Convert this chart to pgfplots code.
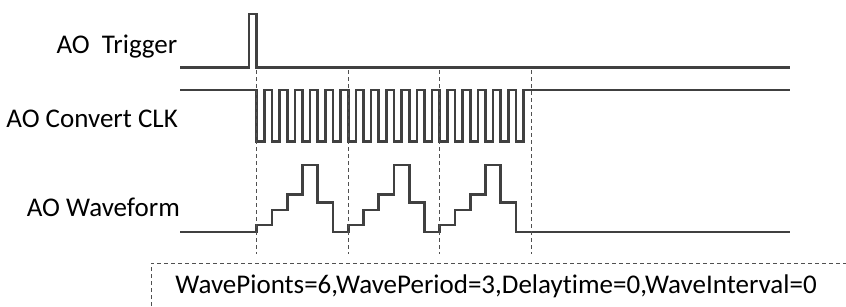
\documentclass[border=0pt]{standalone}
\usepackage{fontspec}
\setmainfont{Carlito}[Ligatures={NoCommon}]
\usepackage{pgfplots}
\pgfplotsset{compat=1.18}
\definecolor{sig}{HTML}{404040}
\definecolor{dsh}{HTML}{505050}
\tikzset{lbl/.style={font=\fontsize{27}{31}\selectfont, inner sep=0pt, text=black}}
\begin{document}
\begin{tikzpicture}
\begin{axis}[name=ax,
  width=846pt, height=306pt, scale only axis,
  xmin=0, xmax=846, ymin=0, ymax=306, y dir=reverse,
  hide axis, clip=false]
% AO Trigger
\addplot[sig, line width=2.6pt, const plot mark left] coordinates {
(180,67.3) (249,14) (256.7,67.3) (790,67.3) };
% AO Convert CLK
\addplot[sig, line width=2.6pt, const plot mark left] coordinates {
(180,90)
(256.70,141.5) (264.30,90)
(271.95,141.5) (279.55,90)
(287.20,141.5) (294.80,90)
(302.45,141.5) (310.05,90)
(317.70,141.5) (325.30,90)
(332.95,141.5) (340.55,90)
(348.20,141.5) (355.80,90)
(363.45,141.5) (371.05,90)
(378.70,141.5) (386.30,90)
(393.95,141.5) (401.55,90)
(409.20,141.5) (416.80,90)
(424.45,141.5) (432.05,90)
(439.70,141.5) (447.30,90)
(454.95,141.5) (462.55,90)
(470.20,141.5) (477.80,90)
(485.45,141.5) (493.05,90)
(500.70,141.5) (508.30,90)
(515.95,141.5) (523.55,90)
(790,90) };
% AO Waveform
\addplot[sig, line width=2.6pt, const plot mark left] coordinates {
(180,232)
(256.70,225) (271.95,210) (287.20,194.3) (302.45,165) (317.70,202.3) (332.95,232)
(348.20,225) (363.45,210) (378.70,194.3) (393.95,165) (409.20,202.3) (424.45,232)
(439.70,225) (454.95,210) (470.20,194.3) (485.45,165) (500.70,202.3) (515.95,232)
(790,232) };
% dashed markers
\addplot[dsh, line width=1pt, dash pattern=on 4pt off 3pt] coordinates {(256.7,70) (256.7,254)};
\addplot[dsh, line width=1pt, dash pattern=on 4pt off 3pt] coordinates {(348.2,70) (348.2,254)};
\addplot[dsh, line width=1pt, dash pattern=on 4pt off 3pt] coordinates {(439.7,70) (439.7,254)};
\addplot[dsh, line width=1pt, dash pattern=on 4pt off 3pt] coordinates {(531.2,70) (531.2,254)};
% dashed box
\addplot[dsh, line width=1pt, dash pattern=on 4pt off 3pt] coordinates {(151,306) (151,263.3) (846,263.3)};
% labels
\node[lbl, anchor=base east] at (axis cs:177.5,53.3) {AO~\ Trigger};
\node[lbl, anchor=base east] at (axis cs:178,127.3) {AO Convert CLK};
\node[lbl, anchor=base east] at (axis cs:180,216.7) {AO Waveform};
\node[lbl, anchor=base] at (axis cs:496,293.3) {WavePionts=6,WavePeriod=3,Delaytime=0,WaveInterval=0};
\end{axis}
\pgfresetboundingbox
\path[use as bounding box] (ax.south west) rectangle (ax.north east);
\end{tikzpicture}
\end{document}
